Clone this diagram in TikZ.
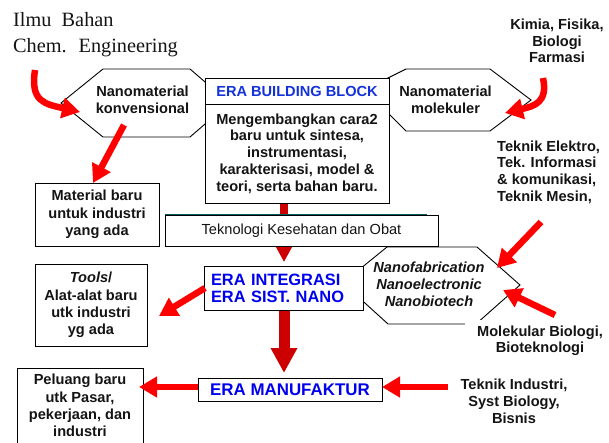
\documentclass[tikz,border=0pt]{standalone}
\usepackage{fontspec}
\setmainfont{Liberation Sans}
\newfontfamily\serifa[WordSpace=2]{Liberation Serif}
\usetikzlibrary{arrows.meta}
\definecolor{arrowred}{RGB}{255,0,0}
\definecolor{darkarrow}{RGB}{204,0,0}
\definecolor{erablue}{RGB}{0,0,240}
\definecolor{titleblue}{RGB}{20,50,220}
\definecolor{tealedge}{RGB}{0,90,90}
\definecolor{inktext}{RGB}{20,20,20}

\begin{document}
\begin{tikzpicture}[x=1pt,y=-1pt,
  txt/.style={font=\bfseries\fontsize{14.6}{16.8}\selectfont, align=center, inner sep=0pt, text=inktext},
  box/.style={txt, draw=black, line width=0.9pt, fill=white},
  outline/.style={draw=black, line width=0.9pt},
  redarrow/.style={draw=arrowred, line width=6.5pt, -{Triangle[length=18pt,width=20pt]}},
  mainflow/.style={draw=darkarrow, -{Triangle[length=#1pt,width=#1pt]}},
]
\useasboundingbox (0,0) rectangle (609,443);

% field outlines (their inner parts are hidden behind the boxes)
\draw[outline] (61,103) -- (103,69) -- (190,69) -- (212,88) -- (212,118) -- (190,137) -- (103,137) -- cycle;
\draw[outline] (380,82) -- (406,69) -- (490,69) -- (531,100) -- (490,131) -- (406,131) -- (380,105) -- cycle;
\draw[outline] (355,273) -- (387,247) -- (477,247) -- (520,285) -- (476,324) -- (388,324) -- (355,294) -- cycle;

% main vertical flow
\coordinate (flowA) at (284,203);
\coordinate (flowB) at (284,262);
\coordinate (flowC) at (284,310);
\coordinate (flowD) at (284,373);
\draw[mainflow=16, line width=8pt] (flowA) -- (flowB);
\draw[mainflow=25, line width=11pt] (flowC) -- (flowD);

% boxes
\node[box, minimum width=184pt, minimum height=26pt, text=titleblue] (bbtitle) at (297,91) {ERA BUILDING BLOCK};
\node[box, minimum width=184pt, minimum height=99pt] (bbbody) at (297,153.5)
  {Mengembangkan cara2\\baru untuk sintesa,\\instrumentasi,\\karakterisasi, model \&\\teori, serta bahan baru.};
\node[box, font=\fontsize{14.6}{16.8}\selectfont, minimum width=273pt, minimum height=31pt] (tekno) at (301.5,230.5)
  {Teknologi Kesehatan dan Obat};
\draw[draw=tealedge, line width=1.2pt] (tekno.north west) -- ([xshift=-11pt]tekno.north east);
\node[box, font=\bfseries\fontsize{14.6}{17.5}\selectfont, minimum width=124pt, minimum height=63pt] (material) at (97,214.5)
  {Material baru\\untuk industri\\yang ada};
\node[box, font=\bfseries\fontsize{14.6}{17.3}\selectfont, minimum width=112pt, minimum height=82pt] (tools) at (91,305)
  {\textit{Tools}/\\Alat-alat baru\\utk industri\\yg ada};
\node[box, text=erablue, font=\bfseries\fontsize{16.4}{17}\selectfont, align=left, text width=145pt, inner xsep=7pt, minimum height=44pt] (integ) at (283.5,288)
  {ERA INTEGRASI\\ERA SIST. NANO};
\node[box, text=erablue, font=\bfseries\fontsize{16.9}{18}\selectfont, minimum width=184pt, minimum height=23pt] (manuf) at (290,389.5)
  {ERA MANUFAKTUR};
\node[box, font=\bfseries\fontsize{14.6}{17.3}\selectfont, minimum width=126pt, minimum height=75.4pt] (peluang) at (80,405.7)
  {Peluang baru\\utk Pasar,\\pekerjaan, dan\\industri};

% texts inside the outlines
\node[txt] (konv) at (142.5,99.7) {Nanomaterial\\konvensional};
\node[txt] (molek) at (445.5,99.7) {Nanomaterial\\molekuler};
\node[txt, font=\bfseries\itshape\fontsize{14.6}{17}\selectfont] (nanofab) at (429,284.7)
  {Nanofabrication\\Nanoelectronic\\Nanobiotech};

% free labels
\node[txt, font=\bfseries\fontsize{14.6}{16.5}\selectfont] (kimia) at (557,41.2) {Kimia, Fisika,\\Biologi\\Farmasi};
\node[txt, align=left, anchor=west] (elektro) at (497,172.2)
  {Teknik Elektro,\\Tek. Informasi\\\& komunikasi,\\Teknik Mesin,};
\node[txt, font=\bfseries\fontsize{14.6}{16}\selectfont, fill=white, inner xsep=12pt, inner ysep=6pt] (molbio) at (540,341.2)
  {Molekular Biologi,\\Bioteknologi};
\node[txt, font=\bfseries\fontsize{14.6}{17}\selectfont] (tind) at (514,401.7) {Teknik Industri,\\Syst Biology,\\Bisnis};
\node[txt, font=\serifa\fontsize{20.3}{26}\selectfont, align=left, anchor=west] (ilmu) at (13,34.3)
  {Ilmu Bahan\\Chem. Engineering};

% red arrows
\coordinate (ilmuOut) at (35,70);
\coordinate (konvIn) at (80,112);
\coordinate (kimiaOut) at (543,78);
\coordinate (molekIn) at (505,113);
\coordinate (konvOut) at (124,125);
\coordinate (materialIn) at (93,183);
\coordinate (elektroOut) at (541,222);
\coordinate (nanofabInA) at (497,268);
\coordinate (molbioOut) at (555,315);
\coordinate (nanofabInB) at (503,290);
\coordinate (integOut) at (205,288);
\coordinate (toolsIn) at (159,316);
\coordinate (tindOut) at (448,387);
\coordinate (manufIn) at (382,387);
\coordinate (manufOut) at (198,387);
\coordinate (peluangIn) at (139,387);

\draw[redarrow] (ilmuOut) .. controls (30,102) and (45,104) .. (konvIn);
\draw[redarrow] (kimiaOut) .. controls (548,102) and (535,106) .. (molekIn);
\draw[redarrow] (konvOut) -- (materialIn);
\draw[redarrow] (elektroOut) -- (nanofabInA);
\draw[redarrow] (molbioOut) -- (nanofabInB);
\draw[redarrow] (integOut) -- (toolsIn);
\draw[redarrow] (tindOut) -- (manufIn);
\draw[redarrow] (manufOut) -- (peluangIn);
\end{tikzpicture}
\end{document}
